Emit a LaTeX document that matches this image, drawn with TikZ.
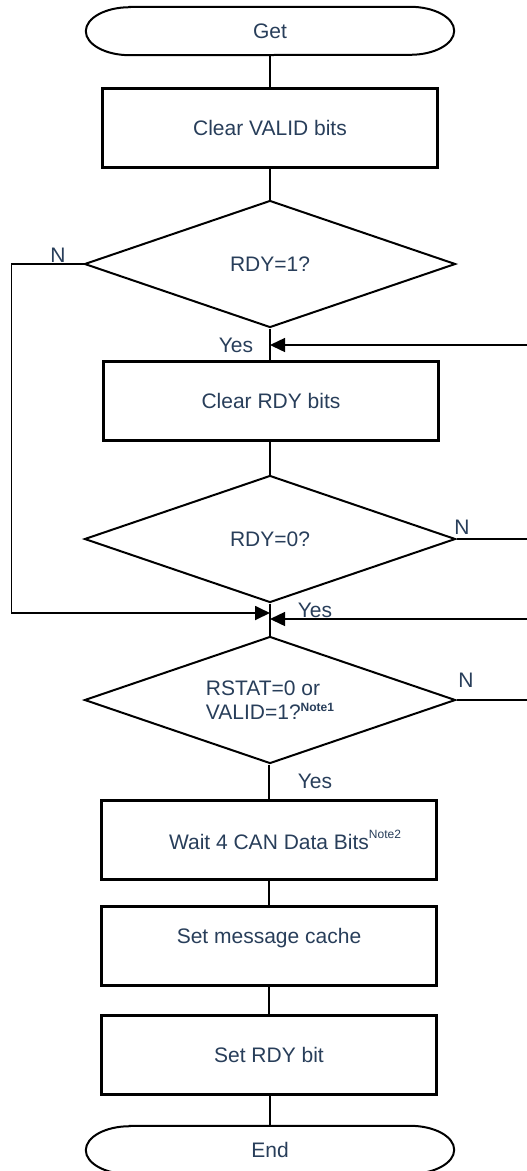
\documentclass[tikz,border=0pt]{standalone}
\usepackage{fontspec}
\setmainfont{Liberation Sans}
\usetikzlibrary{shapes.geometric,arrows.meta}
\definecolor{txt}{RGB}{40,62,90}
\begin{document}
\begin{tikzpicture}[x=1pt,y=1pt,
  every node/.style={text=txt, font=\fontsize{21}{24}\selectfont},
  proc/.style={draw=black, line width=2.3pt, minimum width=335pt, minimum height=79pt, inner sep=0pt},
  dec/.style={draw=black, diamond, line width=2pt, minimum width=371pt, minimum height=127pt, inner sep=0pt, aspect=2.9},
  term/.style={minimum width=368pt, minimum height=48pt, inner sep=0pt},
  termline/.style={draw=black, line width=2pt},
  conn/.style={draw=black, line width=1.4pt},
  arr/.style={conn, -{Triangle[length=15pt,width=14pt]}},
  lbl/.style={text=txt, inner sep=0pt}
]
\useasboundingbox (0,0) rectangle (527,-1171);
\fill[white] (0,0) rectangle (527,-1171);

% nodes
\node[term] (get) at (270,-31) {Get};
\node[proc] (clrvalid) at (270,-128) {Clear VALID bits};
\node[dec] (d1) at (270,-264) {RDY=1?};
\node[proc] (clrrdy) at (271,-401) {Clear RDY bits};
\node[dec] (d2) at (270,-539) {RDY=0?};
\coordinate (join) at (270,-613);
\node[dec, align=left] (d3) at (270,-700) {RSTAT=0 or\\VALID=1?\raisebox{8pt}{\fontsize{12}{12}\selectfont\bfseries Note1}};
\node[proc] (wait) at (269,-840) {Wait 4 CAN Data Bits\rlap{\raisebox{11pt}{\fontsize{12}{12}\selectfont Note2}}};
\node[proc, text height=15pt, text depth=21pt] (cache) at (269,-946) {Set message cache};
\node[proc] (setrdy) at (269,-1055) {Set RDY bit};
\node[term] (end) at (270,-1150) {End};

% terminal outlines
\draw[termline] ([xshift=44pt]get.north west) -- ([xshift=-44pt]get.north east)
  arc[start angle=90,end angle=-90,x radius=44pt,y radius=24pt]
  -- ([xshift=44pt]get.south west)
  arc[start angle=270,end angle=90,x radius=44pt,y radius=24pt] -- cycle;
\draw[termline] ([xshift=44pt]end.north west) -- ([xshift=-44pt]end.north east)
  arc[start angle=90,end angle=-90,x radius=44pt,y radius=24pt]
  -- ([xshift=44pt]end.south west)
  arc[start angle=270,end angle=90,x radius=44pt,y radius=24pt] -- cycle;

% free ends at the right edge
\coordinate (r1) at (527,-345);
\coordinate (r2) at (527,-539);
\coordinate (r3) at (527,-619);
\coordinate (r4) at (527,-700);

% connectors
\draw[conn] (get.south) -- (clrvalid.north);
\draw[conn] (clrvalid.south) -- (d1.north);
\draw[conn] (d1.south) -- (d1.south |- clrrdy.north);
\draw[arr] (r1) -- (r1 -| d1.south);
\draw[conn] (clrrdy.south -| d2.north) -- (d2.north);
\draw[conn] (d2.east) -- (r2);
\draw[arr, line width=1.8pt] (d1.west) -- ++(-72,0) |- (join);
\draw[conn] (d2.south) -- (d3.north);
\draw[arr] (r3) -- (r3 -| join);
\draw[conn] (d3.east) -- (r4);
\draw[conn] (d3.south -| wait.north) -- (wait.north);
\draw[conn] (wait.south) -- (cache.north);
\draw[conn] (cache.south) -- (setrdy.north);
\draw[conn] (setrdy.south -| end.north) -- (end.north);

% labels
\node[lbl] (n1) at (58,-255) {N};
\node[lbl] (yes1) at (236,-345) {Yes};
\node[lbl] (n2) at (462,-527) {N};
\node[lbl] (yes2) at (315,-610) {Yes};
\node[lbl] (n3) at (466,-680) {N};
\node[lbl] (yes3) at (315,-781) {Yes};
\end{tikzpicture}
\end{document}
